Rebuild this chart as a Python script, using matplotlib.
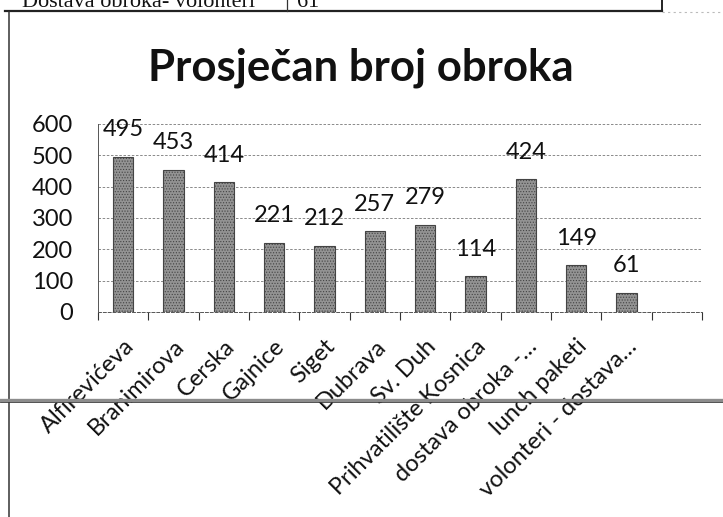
import matplotlib.pyplot as plt
import numpy as np
from matplotlib.lines import Line2D

# ======================================================
# DATA
# ======================================================

# Excel range had one extra, empty category at the end
CATEGORIES = [
    "Alfirevićeva", "Branimirova", "Cerska", "Gajnice", "Siget",
    "Dubrava", "Sv. Duh", "Prihvatilište Kosnica", "dostava obroka -…",
    "lunch paketi", "volonteri - dostava…", "",
]
MEALS = [495, 453, 414, 221, 212, 257, 279, 114, 424, 149, 61]
Y_TICKS = [0, 100, 200, 300, 400, 500, 600]

TITLE = "Prosječan broj obroka"
TABLE_ROW = ["Dostava obroka- volonteri", "61"]

FONT = ["Lato", "DejaVu Sans"]
BAR_COLOR = "#939393"

W, H = 723, 517


def px(x, y):
    """pixel coords (from top-left) -> figure fraction"""
    return x / W, 1 - y / H


# ======================================================
# FIGURE
# ======================================================

plt.rcParams["font.family"] = FONT
plt.rcParams["hatch.color"] = "#5e5e5e"
plt.rcParams["hatch.linewidth"] = 0.5

fig = plt.figure(figsize=(W / 100, H / 100), dpi=100)

# ---- scanned page bits around the chart -------------------------------
fig.add_artist(Line2D([5 / W, 662 / W], [1 - 11 / H] * 2, color="#222", lw=1.6))
fig.add_artist(Line2D([662 / W, 1], [1 - 12 / H] * 2, color="#bbb", lw=0.8,
                      ls=(0, (2, 3))))
fig.add_artist(Line2D([287 / W] * 2, [1 - 11 / H, 1], color="#333", lw=0.9))
fig.add_artist(Line2D([662 / W] * 2, [1 - 11 / H, 1], color="#222", lw=1.4))
fig.add_artist(Line2D([9 / W] * 2, [0, 1 - 12 / H], color="#333", lw=1.1))
fig.text(*px(22, 7), TABLE_ROW[0], family="Liberation Serif", fontsize=16,
         va="baseline", ha="left", color="#111")
fig.text(*px(297, 7), TABLE_ROW[1], family="Liberation Serif", fontsize=16,
         va="baseline", ha="left", color="#111")

# horizontal page rule crossing the labels
fig.add_artist(Line2D([0, 1], [1 - 399.5 / H] * 2, color="#8c8c8c", lw=2.4,
                      zorder=5))
fig.add_artist(Line2D([0, 1], [1 - 401.5 / H] * 2, color="#3a3a3a", lw=0.6,
                      zorder=6))

# ---- chart ------------------------------------------------------------
x0, y_top = px(98, 124)
x1, y_bot = px(702, 312)
ax = fig.add_axes([x0, y_bot, x1 - x0, y_top - y_bot])

n = len(CATEGORIES)
x = np.arange(len(MEALS))
ax.bar(x, MEALS, width=0.41, color=BAR_COLOR, edgecolor="#444",
       linewidth=0.8, hatch="......", zorder=3)

for xi, v in zip(x, MEALS):
    ax.annotate(str(v), (xi, v), xytext=(0, 19.5), textcoords="offset points",
                ha="center", va="center", fontsize=17, color="#111", zorder=4)

ax.set_xlim(-0.5, n - 0.5)
ax.set_ylim(0, 600)
ax.set_yticks(Y_TICKS)
ax.set_yticklabels([str(t) for t in Y_TICKS], fontsize=17, color="#111")
ax.tick_params(axis="y", length=0, pad=18)

ax.set_xticks(np.arange(n))
ax.set_xticklabels(CATEGORIES, rotation=45, ha="right",
                   rotation_mode="anchor", fontsize=17, color="#111")
ax.tick_params(axis="x", which="major", length=0, pad=17)
ax.set_xticks(np.arange(-0.5, n), minor=True)
ax.tick_params(axis="x", which="minor", length=6, width=0.8, color="#333",
               direction="out")

ax.grid(axis="y", color="#777", lw=0.6, ls=(0, (3, 2)), zorder=0)
for side in ["top", "right"]:
    ax.spines[side].set_visible(False)
ax.spines["left"].set_color("#555")
ax.spines["left"].set_linewidth(0.7)
ax.spines["bottom"].set_color("#555")
ax.spines["bottom"].set_linewidth(0.7)
ax.spines["bottom"].set_linestyle((0, (3, 2)))

fig.text(*px(361, 68), TITLE, ha="center", va="center", fontsize=31.5,
         fontweight="bold", color="#111")

fig.savefig("out.png", dpi=100)
